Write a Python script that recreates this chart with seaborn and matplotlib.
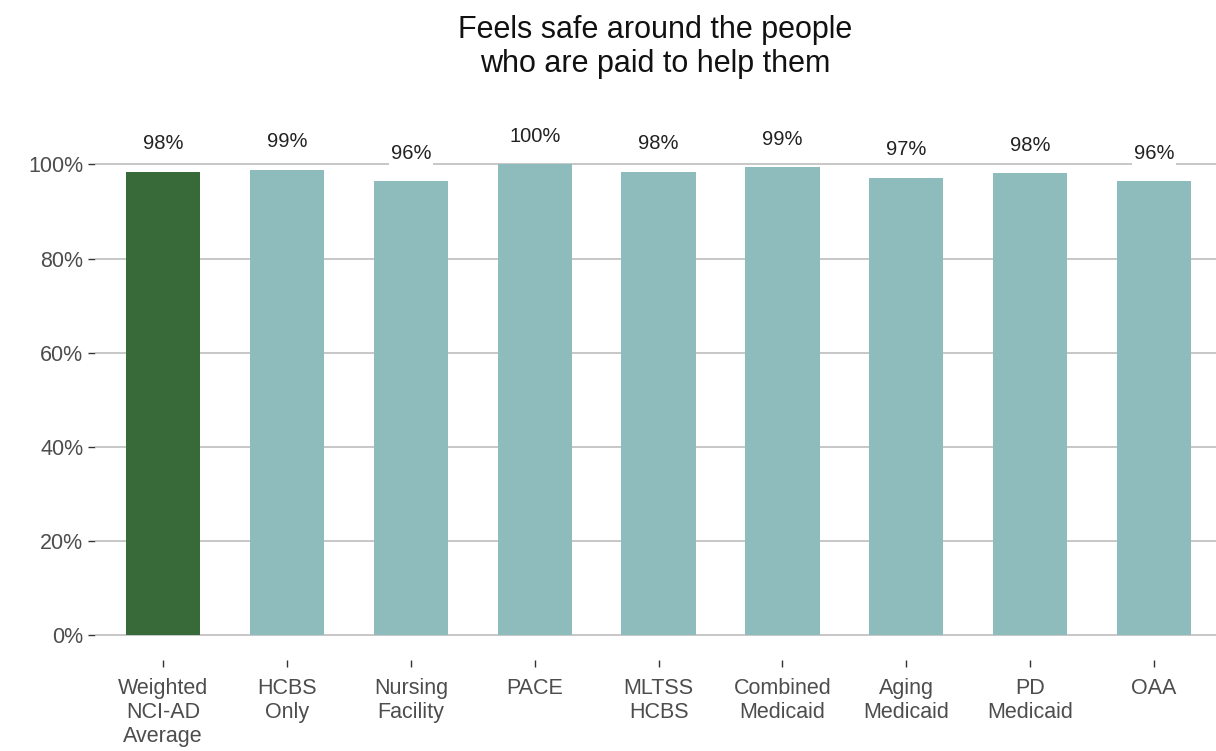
import pandas as pd
import seaborn as sns
from matplotlib import pyplot as plt
from matplotlib.ticker import PercentFormatter

categories = ['Weighted\nNCI-AD\nAverage', 'HCBS\nOnly', 'Nursing\nFacility', 'PACE',
              'MLTSS\nHCBS', 'Combined\nMedicaid', 'Aging\nMedicaid', 'PD\nMedicaid', 'OAA']
values = [0.985, 0.989, 0.964, 1.0, 0.985, 0.994, 0.972, 0.981, 0.964]
labels = ['98%', '99%', '96%', '100%', '98%', '99%', '97%', '98%', '96%']
colors = ['#386938'] + ['#8EBCBC'] * 8

df = pd.DataFrame({'group': categories, 'value': values})

sns.set_style('white')
plt.rcParams['font.family'] = ['Liberation Sans', 'DejaVu Sans']

fig = plt.figure(figsize=(12.16, 7.51), dpi=100)
ax = fig.add_axes([95 / 1216, 1 - 660 / 751, 1 - 95 / 1216, (660 - 108) / 751])

sns.barplot(data=df, x='group', y='value', hue='group', palette=colors,
            legend=False, width=0.6, saturation=1, linewidth=0, ax=ax, zorder=3)

ax.set_ylim(-0.053, 1.12)
ax.set_xlim(-0.55, 8.5)
ax.set_yticks([0, 0.2, 0.4, 0.6, 0.8, 1.0])
ax.yaxis.set_major_formatter(PercentFormatter(1.0, decimals=0))
for y in [0, 0.2, 0.4, 0.6, 0.8, 1.0]:
    ax.axhline(y, color='#BEBEBE', lw=1.2, zorder=1)

for i, (v, lab) in enumerate(zip(values, labels)):
    ax.text(i, v + 0.06, lab, ha='center', va='center', fontsize=14.5, color='#222222',
            bbox=dict(facecolor='white', edgecolor='none', pad=1.5), zorder=4)

for s in ax.spines.values():
    s.set_visible(False)
ax.tick_params(axis='both', which='both', length=5, width=1, color='#333333',
               labelcolor='#4D4D4D', labelsize=15.5, left=True, bottom=True)
ax.tick_params(axis='x', pad=8)
for t in ax.get_xticklabels():
    t.set_linespacing(1.18)
ax.set_xlabel('')
ax.set_ylabel('')

ax.set_title('Feels safe around the people\nwho are paid to help them',
             fontsize=22, color='#111111', pad=26, linespacing=1.18)

plt.savefig('out.png', dpi=100)
